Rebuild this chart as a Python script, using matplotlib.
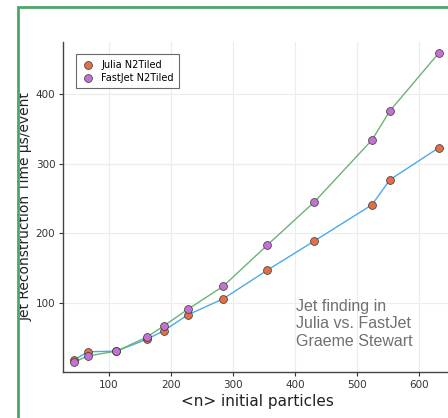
"""
Jet reconstruction time vs. mean number of initial particles,
Julia N2Tiled vs FastJet N2Tiled.
"""

import matplotlib
matplotlib.use("Agg")
import matplotlib.pyplot as plt
from matplotlib.patches import Rectangle

# Data ------------------------------------------------------------------------
n_particles = [43, 66, 112, 161, 188, 227, 284, 355, 431, 524, 553, 632]
julia_time = [18, 30, 31, 48, 60, 83, 106, 147, 189, 241, 277, 323]
fastjet_time = [15, 24, 31, 51, 67, 91, 124, 183, 245, 334, 376, 459]

x_ticks = [100, 200, 300, 400, 500, 600]
y_ticks = [100, 200, 300, 400]

BLUE = "#4FA8E8"
ORANGE = "#E36F47"
GREEN = "#6DB277"
PURPLE = "#C371D2"
FRAME = "#4CA66A"


def main():
    W, H = 448, 418
    fig = plt.figure(figsize=(W / 100, H / 100), dpi=100)

    # green slide frame, cut on the right and bottom
    fig.patches.append(Rectangle((18 / W, -0.2), 1.5, 1.2 - 7 / H,
                                 transform=fig.transFigure, fill=False,
                                 edgecolor=FRAME, linewidth=2))

    ax = fig.add_axes([63 / W, 1 - 372 / H, (452 - 63) / W, (372 - 42) / H])

    ax.plot(n_particles, julia_time, color=BLUE, lw=1, zorder=2)
    ax.plot(n_particles, fastjet_time, color=GREEN, lw=1, zorder=2)
    ax.scatter(n_particles, julia_time, s=32, color=ORANGE, edgecolor="#333333",
               linewidth=0.5, zorder=3, label="Julia N2Tiled")
    ax.scatter(n_particles, fastjet_time, s=32, color=PURPLE, edgecolor="#333333",
               linewidth=0.5, zorder=3, label="FastJet N2Tiled")

    ax.set_xlim(25.8, 653)
    ax.set_ylim(1, 474.6)
    ax.set_xticks(x_ticks)
    ax.set_yticks(y_ticks)
    ax.grid(True, color="#ececec", lw=0.8)
    ax.set_axisbelow(True)
    for s in ["top", "right"]:
        ax.spines[s].set_visible(False)
    for s in ["left", "bottom"]:
        ax.spines[s].set_color("#444444")
        ax.spines[s].set_linewidth(1)
    ax.tick_params(labelsize=7.5, colors="#333333", length=3, width=0.8, pad=2.5)

    ax.set_xlabel("<n> initial particles", fontsize=11, color="#222222")
    ax.xaxis.set_label_coords(0.5, -0.067)
    ax.set_ylabel("Jet Reconstruction Time μs/event", fontsize=10, color="#222222")
    ax.yaxis.set_label_coords(-0.079, 0.5)

    leg = ax.legend(loc="upper left", bbox_to_anchor=(0.033, 0.964), fontsize=7,
                    frameon=True, fancybox=False, edgecolor="#444444",
                    handletextpad=0.6, borderpad=0.6, labelspacing=0.3,
                    handlelength=1.4, borderaxespad=0)
    leg.get_frame().set_linewidth(0.8)

    fig.text(296 / W, 1 - 299 / H, "Jet finding in\nJulia vs. FastJet\nGraeme Stewart",
             fontsize=11.5, color="#707070", family="Liberation Sans",
             va="top", ha="left", linespacing=1.2)

    fig.savefig("out.png", dpi=100)


if __name__ == "__main__":
    main()
